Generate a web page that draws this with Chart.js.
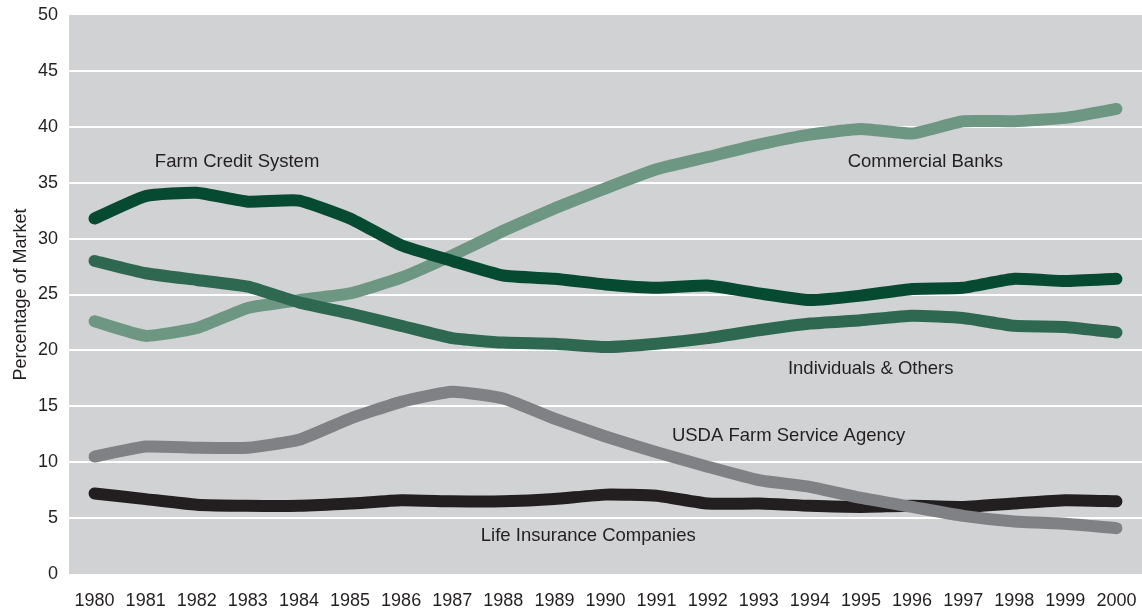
<!DOCTYPE html>
<html>
<head>
<meta charset="utf-8">
<script src="https://cdn.jsdelivr.net/npm/chart.js@4"></script>
<style>
  html, body { margin: 0; padding: 0; background: #fff; }
  #wrap { width: 1142px; height: 609px; }
</style>
</head>
<body>
<div id="wrap"><canvas id="myChart"></canvas></div>
<script>
var years = ["1980","1981","1982","1983","1984","1985","1986","1987","1988","1989","1990",
             "1991","1992","1993","1994","1995","1996","1997","1998","1999","2000"];

var farmCredit  = [31.8,33.8,34.1,33.3,33.4,31.8,29.4,28.0,26.7,26.4,25.9,25.6,25.8,25.1,24.5,24.9,25.5,25.6,26.4,26.2,26.4];
var individuals = [28.0,26.9,26.3,25.7,24.3,23.3,22.2,21.1,20.7,20.6,20.3,20.6,21.1,21.8,22.4,22.7,23.1,22.9,22.2,22.1,21.6];
var commercial  = [22.6,21.3,22.0,23.8,24.5,25.1,26.5,28.5,30.7,32.7,34.5,36.2,37.3,38.4,39.3,39.8,39.4,40.5,40.5,40.8,41.6];
var usda        = [10.5,11.4,11.3,11.3,12.0,13.9,15.4,16.3,15.7,13.9,12.3,10.9,9.6,8.4,7.8,6.8,6.0,5.2,4.7,4.5,4.1];
var lifeIns     = [7.2,6.7,6.2,6.1,6.1,6.3,6.6,6.5,6.5,6.7,7.1,7.0,6.3,6.3,6.1,6.0,6.1,6.0,6.3,6.6,6.5];

var yTicks = [0,5,10,15,20,25,30,35,40,45,50];

// series labels, anchored in data units (category index, value) at left / middle of text
var seriesLabels = [
  { text: "Farm Credit System",       at: [1.18, 36.85] },
  { text: "Commercial Banks",         at: [14.74, 36.85] },
  { text: "Individuals & Others",     at: [13.57, 18.35] },
  { text: "USDA Farm Service Agency", at: [11.3, 12.35] },
  { text: "Life Insurance Companies", at: [7.56, 3.4] }
];

var textColor = "#231f20";
var fontFam = "'Liberation Sans', Arial, sans-serif";

var plotBg = {
  id: "plotBg",
  beforeDraw: function(chart) {
    var a = chart.chartArea, ctx = chart.ctx;
    ctx.save();
    ctx.fillStyle = "#d1d2d4";
    ctx.fillRect(a.left, a.top, a.right - a.left, a.bottom - a.top);
    ctx.restore();
  }
};

var labelPlugin = {
  id: "seriesLabels",
  afterDatasetsDraw: function(chart) {
    var ctx = chart.ctx, xs = chart.scales.x, ys = chart.scales.y;
    ctx.save();
    ctx.font = "18.5px " + fontFam;
    ctx.fillStyle = textColor;
    ctx.textAlign = "left";
    ctx.textBaseline = "middle";
    seriesLabels.forEach(function(l) {
      ctx.fillText(l.text, xs.getPixelForValue(l.at[0]), ys.getPixelForValue(l.at[1]));
    });
    ctx.restore();
  }
};

function ds(label, data, color) {
  return {
    label: label,
    data: data,
    borderColor: color,
    backgroundColor: color,
    borderWidth: 12,
    borderCapStyle: "round",
    borderJoinStyle: "round",
    pointRadius: 0,
    tension: 0.15,
    fill: false
  };
}

new Chart("myChart", {
  type: "line",
  data: {
    labels: years,
    datasets: [
      ds("USDA Farm Service Agency", usda, "#808184"),
      ds("Life Insurance Companies", lifeIns, "#231f20"),
      ds("Farm Credit System", farmCredit, "#074a32"),
      ds("Individuals & Others", individuals, "#2f6850"),
      ds("Commercial Banks", commercial, "#6d9683")
    ]
  },
  options: {
    responsive: true,
    maintainAspectRatio: false,
    animation: false,
    layout: { padding: 0 },
    plugins: {
      legend: { display: false },
      tooltip: { enabled: false }
    },
    scales: {
      x: {
        offset: true,
        grid: { display: false, drawTicks: false },
        border: { display: false },
        afterFit: function(axis) {
          axis.paddingRight = 0;
          axis.paddingLeft = 0;
          axis.height = 35;
        },
        ticks: {
          color: textColor,
          font: { family: fontFam, size: 18 },
          padding: 16,
          maxRotation: 0,
          autoSkip: false
        }
      },
      y: {
        min: 0,
        max: 50,
        afterBuildTicks: function(axis) {
          axis.ticks = yTicks.map(function(v) { return { value: v }; });
        },
        afterFit: function(axis) {
          axis.width = 69;
          axis.paddingTop = 15;
          axis.paddingBottom = 0;
        },
        grid: {
          color: function(c) {
            return (c.tick.value === 0 || c.tick.value === 50) ? "rgba(0,0,0,0)" : "#ffffff";
          },
          lineWidth: 2,
          drawTicks: false
        },
        border: { display: false },
        ticks: {
          color: textColor,
          font: { family: fontFam, size: 18 },
          padding: 11
        },
        title: {
          display: true,
          text: "Percentage of Market",
          color: textColor,
          font: { family: fontFam, size: 18 },
          padding: { top: 10, bottom: 4 }
        }
      }
    }
  },
  plugins: [plotBg, labelPlugin]
});
</script>
</body>
</html>
